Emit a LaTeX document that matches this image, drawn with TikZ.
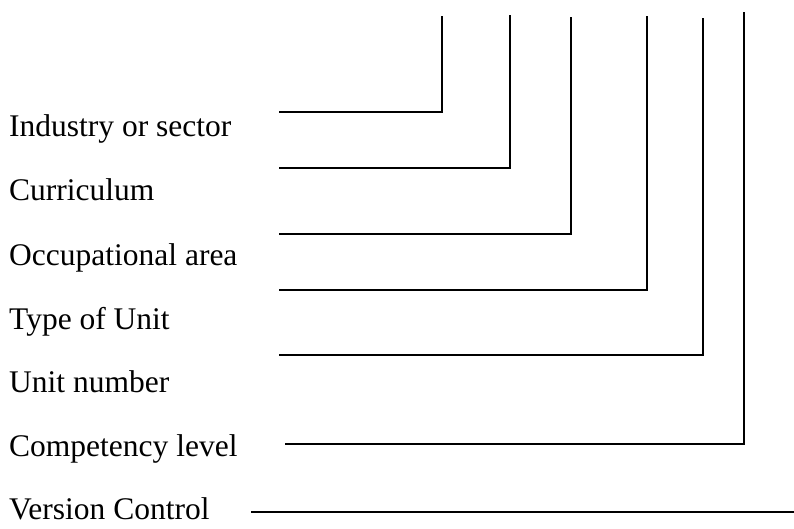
\documentclass[tikz,border=0pt]{standalone}
\usepackage{fontspec}
\setmainfont{Liberation Serif}
\begin{document}
\begin{tikzpicture}[x=1pt,y=-1pt,
  lbl/.style={anchor=base west,inner sep=0pt,font=\fontsize{31.5}{36}\selectfont},
  ln/.style={line width=1.5pt,line cap=butt,line join=miter}]
\useasboundingbox (0,0) rectangle (794,529);
% labels
\node[lbl] (t1) at (9,137) {Industry or sector};
\node[lbl] (t2) at (9,201) {Curriculum};
\node[lbl] (t3) at (9,265) {Occupational area};
\node[lbl] (t4) at (9,329) {Type of Unit};
\node[lbl] (t5) at (9,392) {Unit number};
\node[lbl] (t6) at (9,456) {Competency level};
\node[lbl] (t7) at (9,519) {Version Control};
% line coordinates
\coordinate (a1) at (279,112); \coordinate (b1) at (442,112); \coordinate (c1) at (442,16);
\coordinate (a2) at (279,168); \coordinate (b2) at (510,168); \coordinate (c2) at (510,15);
\coordinate (a3) at (279,234); \coordinate (b3) at (571,234); \coordinate (c3) at (571,17);
\coordinate (a4) at (279,290); \coordinate (b4) at (647,290); \coordinate (c4) at (647,16);
\coordinate (a5) at (279,355); \coordinate (b5) at (703,355); \coordinate (c5) at (703,18);
\coordinate (a6) at (285,444); \coordinate (b6) at (744,444); \coordinate (c6) at (744,12);
\coordinate (a7) at (251,512); \coordinate (b7) at (794,512);
\draw[ln] (a1) -- (b1) -- (c1);
\draw[ln] (a2) -- (b2) -- (c2);
\draw[ln] (a3) -- (b3) -- (c3);
\draw[ln] (a4) -- (b4) -- (c4);
\draw[ln] (a5) -- (b5) -- (c5);
\draw[ln] (a6) -- (b6) -- (c6);
\draw[ln] (a7) -- (b7);
\end{tikzpicture}
\end{document}
